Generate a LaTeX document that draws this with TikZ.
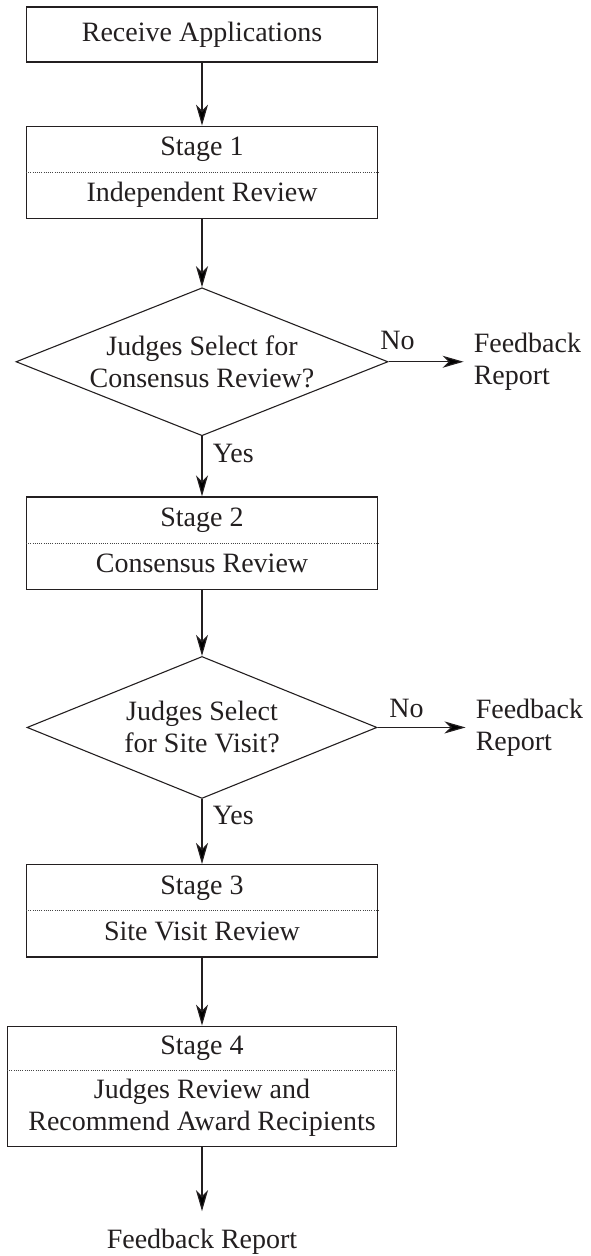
\documentclass[tikz,border=0pt]{standalone}
\usepackage{fontspec}
\setmainfont{Liberation Serif}
\usepackage{tikz}
\usetikzlibrary{arrows.meta,positioning,shapes.geometric,shapes.multipart}
\definecolor{inkblack}{RGB}{35,31,32}
\definecolor{splitgray}{RGB}{70,70,70}
\newcommand{\chartfont}{\fontsize{28}{32}\selectfont}
\tikzset{
    boxbase/.style={
        rectangle,
        draw=inkblack,
        line width=1.2pt,
        minimum width=351pt,
        align=center,
        text=inkblack
    },
    startbox/.style={boxbase, minimum height=55pt},
    stagebox/.style={boxbase, rectangle split, rectangle split parts=2,
        rectangle split draw splits=false, inner ysep=6.5pt},
    decision/.style={diamond, draw=inkblack, line width=1.1pt, aspect=2.5,
        inner sep=0pt, align=center, text=inkblack},
    outnode/.style={align=left, inner xsep=10pt, text=inkblack},
    branchlabel/.style={text=inkblack},
    line/.style={-{Stealth[length=21pt, width=12pt, inset=6pt]}, line width=1.2pt, draw=inkblack},
    splitline/.style={draw=splitgray, line width=0.9pt, dash pattern=on 1pt off 1.2pt},
}

\begin{document}
\begin{tikzpicture}[x=1pt, y=-1pt, font=\chartfont]
    \useasboundingbox (0,0) rectangle (590,1256);

    % Main column
    \node[startbox] (recv) at (202,34.5) {Receive Applications};
    \node[stagebox, below=63pt of recv] (s1) {\strut Stage 1\nodepart{two}\strut Independent Review};
    \node[decision, below=68pt of s1, minimum width=372pt, minimum height=148pt] (dec1) {Judges Select for\\Consensus Review?};
    \node[stagebox, below=60pt of dec1] (s2) {\strut Stage 2\nodepart{two}\strut Consensus Review};
    \node[decision, below=66pt of s2, minimum width=350pt, minimum height=142pt] (dec2) {Judges Select\\for Site Visit?};
    \node[stagebox, below=65pt of dec2] (s3) {\strut Stage 3\nodepart{two}\strut Site Visit Review};
    \node[stagebox, below=68pt of s3, minimum width=389pt, inner ysep=5.5pt] (s4) {\strut Stage 4\nodepart{two}\strut Judges Review and\strut\\\strut Recommend Award Recipients\strut};

    % Feedback outcomes
    \node[outnode, right=75pt of dec1] (fb1) {Feedback\\Report};
    \node[outnode, right=88pt of dec2] (fb2) {Feedback\\Report};
    \node[outnode, below=64pt of s4, inner ysep=18pt] (fb3) {Feedback Report};

    % Dotted splits
    \draw[splitline] (s1.text split west) -- (s1.text split east);
    \draw[splitline] (s2.text split west) -- (s2.text split east);
    \draw[splitline] (s3.text split west) -- (s3.text split east);
    \draw[splitline] (s4.text split west) -- (s4.text split east);

    % Flow
    \draw[line] (recv) -- (s1);
    \draw[line] (s1) -- (dec1);
    \draw[line] (dec1.south) -- node[branchlabel, right=7pt, pos=0.28] {Yes} (s2.north);
    \draw[line] (s2) -- (dec2);
    \draw[line] (dec2.south) -- node[branchlabel, right=7pt, pos=0.26] {Yes} (s3.north);
    \draw[line] (s3) -- (s4);
    \draw[line] (s4) -- (fb3);

    % No branches
    \draw[line] (dec1.east) -- node[branchlabel, above=8pt, pos=0.12] {No} (fb1.west);
    \draw[line] (dec2.east) -- node[branchlabel, above=6pt, pos=0.33] {No} (fb2.west);
\end{tikzpicture}
\end{document}
